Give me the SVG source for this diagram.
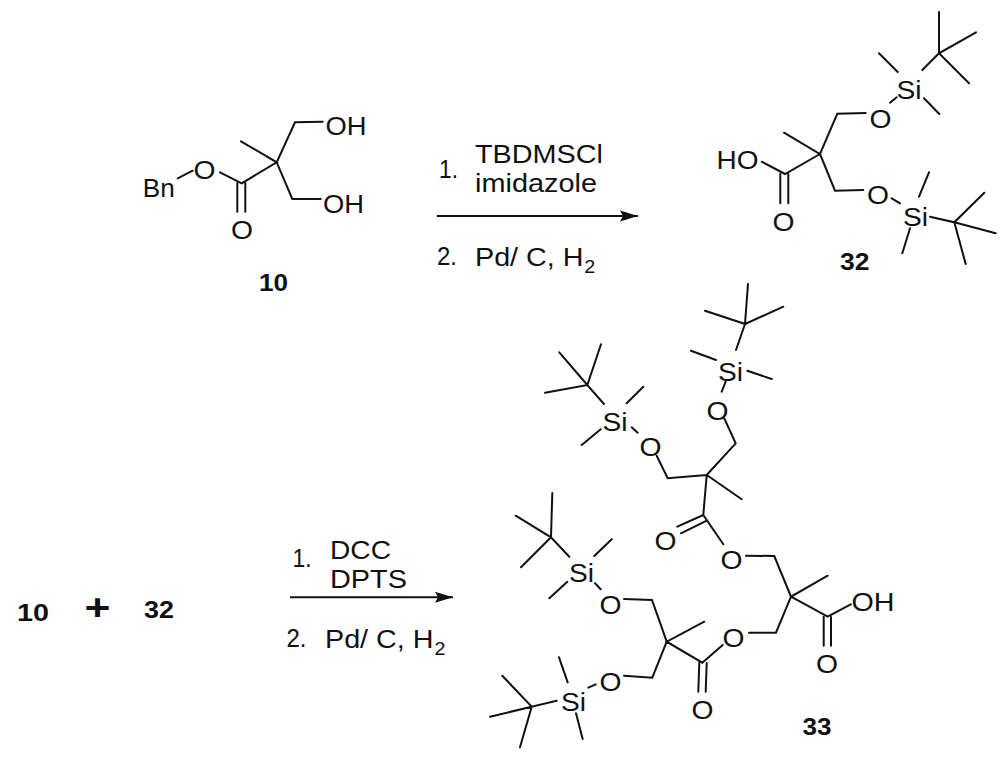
<svg xmlns="http://www.w3.org/2000/svg" width="1000" height="762" viewBox="0 0 1000 762">
<style>
text{font-family:"Liberation Sans",Arial,sans-serif;font-size:25px;fill:#111}
.b{font-weight:700;font-size:23px}
.s{font-size:18px}
.bond path{fill:none;stroke:#111;stroke-width:2;stroke-linecap:round;stroke-linejoin:miter}
.arrow{fill:none;stroke:#111;stroke-width:2}
</style>
<defs>
<marker id="head" markerUnits="userSpaceOnUse" markerWidth="20" markerHeight="14" refX="18" refY="7" orient="auto">
<path d="M0 1.5 L18 7 L0 12.5 L3 7 Z" fill="#111"/>
</marker>
</defs>
<rect width="1000" height="762" fill="#fff"/>
<g id="connectors">
<path class="arrow" d="M436.7 216H638" marker-end="url(#head)"/>
<path class="arrow" d="M290 597.3H453" marker-end="url(#head)"/>
</g>
<g id="compound-10">
<g class="bond"><path d="M177.7 178.3L192.7 170.7M220 172.3L241.7 183.3L276.7 162.3L241 141.3M322.7 121.7L295 122.3L276.7 162.3L292.3 199H320.7M237.3 183V211.7M245.3 183V211.7"/></g>
<text x="142.7" y="197" textLength="32" lengthAdjust="spacingAndGlyphs">Bn</text>
<text x="193.5" y="178.5" textLength="22" lengthAdjust="spacingAndGlyphs">O</text>
<text x="325.5" y="135" textLength="41" lengthAdjust="spacingAndGlyphs">OH</text>
<text x="323" y="213" textLength="41" lengthAdjust="spacingAndGlyphs">OH</text>
<text x="231" y="239" textLength="22" lengthAdjust="spacingAndGlyphs">O</text>
<text class="b" x="259" y="291" textLength="29" lengthAdjust="spacingAndGlyphs">10</text>
</g>
<g id="compound-32">
<g class="bond"><path d="M939 12V53.3M976 32.3L939 53.3L969 83.3M939 53.3L922.3 70M879 53.3L897.7 72M924 98.3L939.3 114M890 102.7L896.7 97.3M865.7 113L837.3 113.7L820 154L784 132.7M820 154L785 174L761.7 161.7M780.3 174V203.3M788.3 174V203.3M820 154L835 190.7L863.3 190M891.7 198.3L900 203.3M919 196.7L929 172.3M910 228.3L902.3 253.3M930 216.7L954.3 222.3L984.3 192.7M954.3 222.3L995.7 233.3M954.3 222.3L965.7 264"/></g>
<text x="716.5" y="169" textLength="42" lengthAdjust="spacingAndGlyphs">HO</text>
<text x="896.5" y="99" textLength="25" lengthAdjust="spacingAndGlyphs">Si</text>
<text x="869.5" y="127.5" textLength="22" lengthAdjust="spacingAndGlyphs">O</text>
<text x="867" y="204" textLength="22" lengthAdjust="spacingAndGlyphs">O</text>
<text x="903" y="225.5" textLength="25" lengthAdjust="spacingAndGlyphs">Si</text>
<text x="772.5" y="231" textLength="22" lengthAdjust="spacingAndGlyphs">O</text>
<text class="b" x="840" y="270" textLength="29.5" lengthAdjust="spacingAndGlyphs">32</text>
</g>
<g id="compound-33">
<g class="bond"><path d="M559.3 352.3L587.3 385L601 344.3M545 392.7L587.3 385L604 404M643.3 386.7L626.7 403.3M600.7 429.3L581.7 445M631.7 427.3L637.7 432.7M656.7 455.7L667.7 478.3L706.7 475L741.7 499.3M706.7 475L735.7 443.3L724.3 418.3M721.7 391.7L725.7 381.7M716 360L691 350.7M747.3 370.7L771.7 379M736 350L745 324L705 310.7M745 324L783.3 306.7M745 324L748 284M706.7 475L703.3 515L723.3 544.3M703.3 515L677.3 526.7M706.7 520.7L681 533.3M746 555.7L774.3 556L791 596.7L827.7 575.7M791 596.7L827.7 616.7L850.7 604.3M823.7 616.7V645.7M831 616.7V645.7M791 596.7L776 632.7H749M722.7 645L702.3 662.7L666.7 641.7L704.3 621.7M666.7 641.7L652 600L624 599M666.7 641.7L652.3 677.7L624 675.7M698.3 691.7L699.3 662.7M705.7 691.7L706.7 663M595 583.3L600.7 589.3M594.3 556L611.7 539.3M567.3 581.7L549.3 598.3M569.3 556.7L551 537.3L515.7 515.7M551 537.3L552.3 493M551 537.3L521 567.3M595.7 684.3L588.3 687.7M567.7 682.3L559 657.3M576 713.3L582.7 739M556.7 700.7L531.7 706.7L502.3 675.7M531.7 706.7L490 716.7M531.7 706.7L520 747.3"/></g>
<text x="602.5" y="430.5" textLength="25" lengthAdjust="spacingAndGlyphs">Si</text>
<text x="639.5" y="456" textLength="22" lengthAdjust="spacingAndGlyphs">O</text>
<text x="706.5" y="420" textLength="22" lengthAdjust="spacingAndGlyphs">O</text>
<text x="718" y="380.5" textLength="25" lengthAdjust="spacingAndGlyphs">Si</text>
<text x="654.5" y="550" textLength="22" lengthAdjust="spacingAndGlyphs">O</text>
<text x="720.5" y="569" textLength="22" lengthAdjust="spacingAndGlyphs">O</text>
<text x="851.5" y="610.5" textLength="43" lengthAdjust="spacingAndGlyphs">OH</text>
<text x="816" y="672.5" textLength="22" lengthAdjust="spacingAndGlyphs">O</text>
<text x="722.5" y="646.5" textLength="22" lengthAdjust="spacingAndGlyphs">O</text>
<text x="691.5" y="719" textLength="22" lengthAdjust="spacingAndGlyphs">O</text>
<text x="599.5" y="613.5" textLength="22" lengthAdjust="spacingAndGlyphs">O</text>
<text x="569" y="582" textLength="25" lengthAdjust="spacingAndGlyphs">Si</text>
<text x="599.5" y="691" textLength="22" lengthAdjust="spacingAndGlyphs">O</text>
<text x="561" y="710.5" textLength="25" lengthAdjust="spacingAndGlyphs">Si</text>
<text class="b" x="802.5" y="734.5" textLength="29" lengthAdjust="spacingAndGlyphs">33</text>
</g>
<g id="conditions-1">
<text x="439" y="178" textLength="19" lengthAdjust="spacingAndGlyphs">1.</text>
<text x="475" y="162.5" textLength="128" lengthAdjust="spacingAndGlyphs">TBDMSCl</text>
<text x="475" y="191.5" textLength="122" lengthAdjust="spacingAndGlyphs">imidazole</text>
<text x="437" y="264.5" textLength="20" lengthAdjust="spacingAndGlyphs">2.</text>
<text x="475" y="266" textLength="108.5" lengthAdjust="spacingAndGlyphs">Pd/ C, H</text>
<text class="s" x="584.3" y="273" textLength="11" lengthAdjust="spacingAndGlyphs">2</text>
</g>
<g id="conditions-2">
<text x="292.5" y="567" textLength="19" lengthAdjust="spacingAndGlyphs">1.</text>
<text x="330" y="558.5" textLength="61" lengthAdjust="spacingAndGlyphs">DCC</text>
<text x="330" y="587.5" textLength="77" lengthAdjust="spacingAndGlyphs">DPTS</text>
<text x="286.5" y="647" textLength="20" lengthAdjust="spacingAndGlyphs">2.</text>
<text x="325" y="647.5" textLength="108.5" lengthAdjust="spacingAndGlyphs">Pd/ C, H</text>
<text class="s" x="434.5" y="655" textLength="11" lengthAdjust="spacingAndGlyphs">2</text>
</g>
<g id="reactants">
<text class="b" x="17" y="620.5" textLength="32" lengthAdjust="spacingAndGlyphs">10</text>
<text class="b" style="font-size:36px" x="84.5" y="620" textLength="26" lengthAdjust="spacingAndGlyphs">+</text>
<text class="b" x="144" y="617.5" textLength="30" lengthAdjust="spacingAndGlyphs">32</text>
</g>
</svg>
